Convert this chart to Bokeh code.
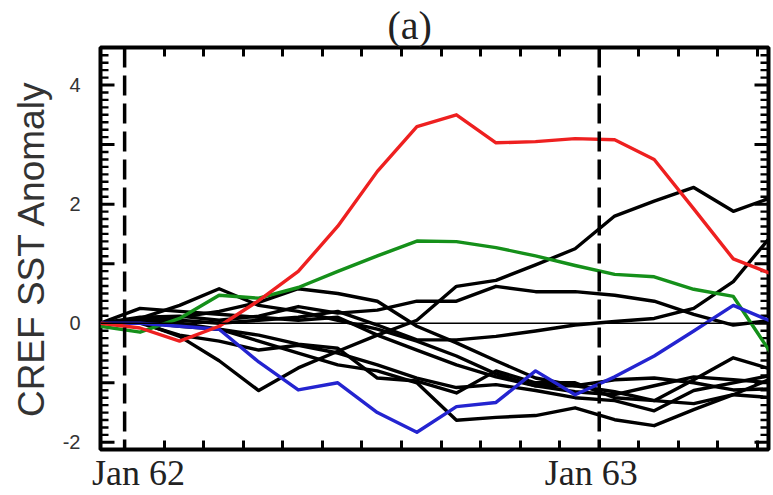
import numpy as np
from bokeh.plotting import figure
from bokeh.models import (LinearAxis, FixedTicker, Range1d, Span,
                          CustomJSTickFormatter)
from bokeh.embed import file_html
from bokeh.resources import INLINE

# ---- data (monthly points, x = month index from first sample) ----
months = list(range(18))
jan62 = 0.61
jan63 = 12.61
month_ticks = [jan62 + k for k in range(17)]
date_labels = ["Jan 62", "Jan 63"]
date_label_pos = [jan62 + 0.35, jan63 - 0.2]

y_major = [-2, -1, 0, 1, 2, 3, 4]
y_tick_labels = ["-2", "", "0", "", "2", "", "4"]
y_minor = [-2.125 + 0.125 * i for i in range(55) if i % 8 != 1]

red   = [0, -0.08, -0.3, -0.05, 0.38, 0.87, 1.63, 2.55, 3.3, 3.5, 3.03, 3.05, 3.1, 3.08, 2.75, 1.92, 1.08, 0.82]
green = [-0.05, -0.15, 0.08, 0.47, 0.42, 0.6, 0.87, 1.13, 1.38, 1.37, 1.27, 1.13, 0.97, 0.82, 0.78, 0.57, 0.45, -0.55]
blue  = [0, 0, -0.05, -0.1, -0.65, -1.12, -1.0, -1.5, -1.83, -1.4, -1.33, -0.8, -1.2, -0.9, -0.55, -0.13, 0.3, 0.02]

black1 = [0, 0.02, -0.22, -0.63, -1.13, -0.75, -0.47, -0.2, 0.05, 0.62, 0.72, 0.98, 1.25, 1.8, 2.05, 2.28, 1.88, 2.12]
black2 = [0, 0.05, 0.05, 0.0, 0.05, 0.1, 0.2, -0.03, -0.28, -0.28, -0.22, -0.13, -0.03, 0.03, 0.08, 0.25, 0.7, 1.5]
black3 = [0, 0.1, 0.12, 0.05, 0.12, 0.28, 0.17, 0.22, 0.37, 0.37, 0.62, 0.53, 0.53, 0.47, 0.37, 0.15, -0.03, 0.05]
black4 = [0, 0.08, 0.3, 0.58, 0.3, 0.2, 0.05, -0.1, -0.3, -0.55, -0.85, -1.05, -1.05, -1.15, -1.3, -1.35, -1.2, -1.25]
black5 = [0, 0.05, 0.1, 0.2, 0.35, 0.58, 0.5, 0.37, -0.05, -0.33, -0.63, -0.92, -1.05, -0.95, -0.92, -1.0, -1.12, -1.1]
black6 = [0, 0.02, -0.05, -0.1, -0.2, -0.35, -0.42, -0.92, -0.97, -1.17, -0.8, -1.0, -1.0, -1.25, -1.3, -0.95, -0.58, -0.78]
black7 = [0, 0.0, -0.2, -0.3, -0.45, -0.37, -0.5, -0.7, -0.92, -1.08, -1.03, -1.13, -1.25, -1.3, -1.47, -1.13, -1.0, -0.87]
black8 = [0, 0.05, 0.0, -0.1, -0.3, -0.5, -0.7, -0.8, -1.0, -1.63, -1.58, -1.55, -1.42, -1.62, -1.72, -1.45, -1.2, -0.92]
black9 = [0, 0.25, 0.2, 0.15, 0.1, 0.05, 0.1, -0.2, -0.45, -0.7, -0.9, -1.05, -1.15, -1.2, -1.05, -0.9, -0.95, -1.0]
black_members = [black1, black2, black3, black4, black5, black6, black7, black8, black9]

# ---- figure ----
x_lo, x_hi = 0, 16.89
frame_w_px = 668
px = (x_hi - x_lo) / frame_w_px          # one screen pixel in x data units
p = figure(width=773, height=495, output_backend="svg", toolbar_location=None,
           x_range=Range1d(x_lo, x_hi), y_range=Range1d(-2.12, 4.63),
           x_axis_location=None, y_axis_location=None,
           min_border_left=100, min_border_right=5, min_border_top=47, min_border_bottom=43)
p.xgrid.visible = False
p.ygrid.visible = False
p.outline_line_color = "black"
p.outline_line_width = 4
p.background_fill_color = "white"
p.border_fill_color = "white"

p.title.text = "(a)"
p.title.text_font = "Liberation Serif"
p.title.text_font_size = "40px"
p.title.text_font_style = "normal"
p.title.text_color = "#222222"
p.title.align = "left"
p.title.offset = 287
p.title.standoff = 0

left = LinearAxis(ticker=FixedTicker(ticks=y_major, minor_ticks=[]),
                  formatter=CustomJSTickFormatter(args=dict(labels=y_tick_labels),
                                                  code="return labels[index]"))
left.axis_line_color = None
left.major_tick_line_color = None
left.minor_tick_line_color = None
left.major_tick_in = 0
left.major_tick_out = 0
left.major_label_text_font = "Liberation Sans"
left.major_label_text_font_size = "20px"
left.major_label_text_color = "#333333"
left.major_label_standoff = 20
left.axis_label = "CREF SST Anomaly"
left.axis_label_text_font = "Liberation Sans"
left.axis_label_text_font_size = "37px"
left.axis_label_text_font_style = "normal"
left.axis_label_text_color = "#333333"
left.axis_label_standoff = 8
p.add_layout(left, "left")

# inward y ticks on both sides as segments (major every 1, minor every 1/8)
for xs, sgn in ((x_lo, 1), (x_hi, -1)):
    p.segment(x0=[xs] * len(y_major), y0=y_major,
              x1=[xs + sgn * 14 * px] * len(y_major), y1=y_major,
              line_color="black", line_width=3)
    p.segment(x0=[xs] * len(y_minor), y0=y_minor,
              x1=[xs + sgn * 8 * px] * len(y_minor), y1=y_minor,
              line_color="black", line_width=2.4)

top = LinearAxis(ticker=FixedTicker(ticks=month_ticks, minor_ticks=[]),
                 formatter=CustomJSTickFormatter(code="return ''"))
top.axis_line_color = None
top.major_tick_in = 9
top.major_tick_out = 0
top.major_tick_line_width = 3
top.major_label_standoff = 0
p.add_layout(top, "above")

bot = LinearAxis(ticker=FixedTicker(ticks=date_label_pos, minor_ticks=month_ticks),
                 formatter=CustomJSTickFormatter(args=dict(labels=date_labels),
                                                 code="return labels[index]"))
bot.axis_line_color = None
bot.major_tick_line_color = None
bot.major_tick_in = 0
bot.major_tick_out = 0
bot.minor_tick_in = 9
bot.minor_tick_out = 0
bot.minor_tick_line_width = 3
bot.minor_tick_line_color = "black"
bot.major_label_text_font = "Liberation Serif"
bot.major_label_text_font_size = "36px"
bot.major_label_text_color = "#222222"
bot.major_label_standoff = 3
p.add_layout(bot, "below")

p.add_layout(Span(location=0, dimension="width", line_color="black", line_width=1.5))
for loc in (jan62, jan63):
    p.add_layout(Span(location=loc, dimension="height", line_color="black",
                      line_width=3.5, line_dash="20 8"))

for ys in black_members:
    p.line(months, ys, line_color="black", line_width=3.4, line_join="round")
p.line(months, green, line_color="#15901a", line_width=3.4, line_join="round")
p.line(months, blue, line_color="#2424d0", line_width=3.4, line_join="round")
p.line(months, red, line_color="#ee2020", line_width=3.4, line_join="round")

open("out.html", "w").write(file_html(p, INLINE))
